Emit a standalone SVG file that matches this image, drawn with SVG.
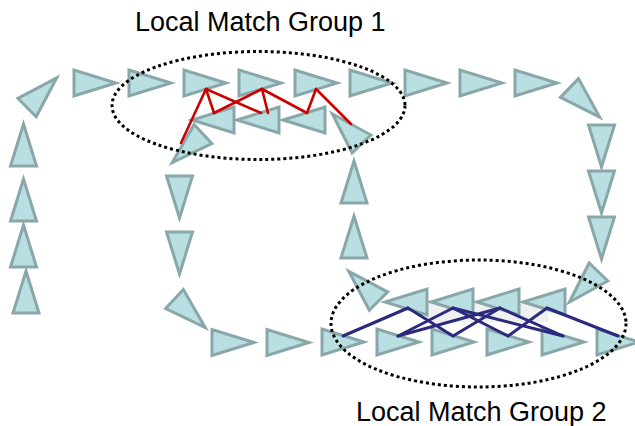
<svg xmlns="http://www.w3.org/2000/svg" xmlns:xlink="http://www.w3.org/1999/xlink" width="635" height="426" viewBox="0 0 635 426">
  <style>
    .tri { fill: #b9dfe2; stroke: #89a7a8; stroke-width: 3; stroke-linejoin: miter; }
    .red { fill: none; stroke: #cc0000; stroke-width: 2.6; stroke-linecap: round; stroke-linejoin: round; }
    .blue { fill: none; stroke: #2b2a7e; stroke-width: 3; stroke-linecap: round; stroke-linejoin: round; }
    .grp { fill: none; stroke: #000; stroke-width: 3; stroke-dasharray: 3 3; }
    .label { font-family: "Liberation Sans", Arial, sans-serif; font-size: 27px; fill: #000; }
  </style>
  <defs>
    <!-- base triangle: base centred on the origin, apex pointing along +x -->
    <path id="tri" class="tri" d="M0,-13 L0,13 L42,0 Z"/>
  </defs>
  <rect width="635" height="426" fill="#fff"/>

  <!-- faint backdrop behind the second group -->
  <rect x="425" y="300" width="123" height="22" fill="#f0f0f0"/>

  <g id="nodes">
    <!-- left column, going up -->
    <g id="n1"><use xlink:href="#tri" transform="translate(26,313) rotate(-90)"/></g>
    <g id="n2"><use xlink:href="#tri" transform="translate(23.5,267) rotate(-90)"/></g>
    <g id="n3"><use xlink:href="#tri" transform="translate(23.5,221) rotate(-90)"/></g>
    <g id="n4"><use xlink:href="#tri" transform="translate(23.5,166) rotate(-90)"/></g>
    <g id="n5"><use xlink:href="#tri" transform="translate(27,107.5) rotate(-45)"/></g>
    <!-- top row, going right -->
    <g id="n6"><use xlink:href="#tri" transform="translate(74,83)"/></g>
    <g id="n7"><use xlink:href="#tri" transform="translate(129,83)"/></g>
    <g id="n8"><use xlink:href="#tri" transform="translate(184,83)"/></g>
    <g id="n9"><use xlink:href="#tri" transform="translate(239,83)"/></g>
    <g id="n10"><use xlink:href="#tri" transform="translate(295,83)"/></g>
    <g id="n11"><use xlink:href="#tri" transform="translate(350,83)"/></g>
    <g id="n12"><use xlink:href="#tri" transform="translate(405,83)"/></g>
    <g id="n13"><use xlink:href="#tri" transform="translate(460,83)"/></g>
    <g id="n14"><use xlink:href="#tri" transform="translate(515,83)"/></g>
    <g id="n15"><use xlink:href="#tri" transform="translate(569.5,88) rotate(44)"/></g>
    <!-- right column, going down -->
    <g id="n16"><use xlink:href="#tri" transform="translate(601.5,125) rotate(90)"/></g>
    <g id="n17"><use xlink:href="#tri" transform="translate(601.5,171) rotate(90)"/></g>
    <g id="n18"><use xlink:href="#tri" transform="translate(601.5,217) rotate(90)"/></g>
    <g id="n19"><use xlink:href="#tri" transform="translate(598.5,272) rotate(134)"/></g>
    <!-- second group, upper row going left -->
    <g id="n20"><use xlink:href="#tri" transform="translate(565,302) rotate(180)"/></g>
    <g id="n21"><use xlink:href="#tri" transform="translate(519,302) rotate(180)"/></g>
    <g id="n22"><use xlink:href="#tri" transform="translate(473,302) rotate(180)"/></g>
    <g id="n23"><use xlink:href="#tri" transform="translate(427,302) rotate(180)"/></g>
    <g id="n24"><use xlink:href="#tri" transform="translate(378.5,301) rotate(225)"/></g>
    <!-- middle column, going up -->
    <g id="n25"><use xlink:href="#tri" transform="translate(354,258) rotate(-90)"/></g>
    <g id="n26"><use xlink:href="#tri" transform="translate(354,203) rotate(-90)"/></g>
    <g id="n27"><use xlink:href="#tri" transform="translate(361.5,144) rotate(226)"/></g>
    <!-- first group, lower row going left -->
    <g id="n28"><use xlink:href="#tri" transform="translate(325,120) rotate(180)"/></g>
    <g id="n29"><use xlink:href="#tri" transform="translate(279,120) rotate(180)"/></g>
    <g id="n30"><use xlink:href="#tri" transform="translate(234,120) rotate(180)"/></g>
    <g id="n31"><use xlink:href="#tri" transform="translate(203,134) rotate(137)"/></g>
    <!-- inner column, going down -->
    <g id="n32"><use xlink:href="#tri" transform="translate(179.5,176) rotate(90)"/></g>
    <g id="n33"><use xlink:href="#tri" transform="translate(179.5,232) rotate(90)"/></g>
    <g id="n34"><use xlink:href="#tri" transform="translate(174.5,299) rotate(43)"/></g>
    <!-- bottom row, going right -->
    <g id="n35"><use xlink:href="#tri" transform="translate(212,342.5)"/></g>
    <g id="n36"><use xlink:href="#tri" transform="translate(267,342.5)"/></g>
    <g id="n37"><use xlink:href="#tri" transform="translate(322,342)"/></g>
    <g id="n38"><use xlink:href="#tri" transform="translate(377,342)"/></g>
    <g id="n39"><use xlink:href="#tri" transform="translate(432,342)"/></g>
    <g id="n40"><use xlink:href="#tri" transform="translate(487,342)"/></g>
    <g id="n41"><use xlink:href="#tri" transform="translate(542,342)"/></g>
    <g id="n42"><use xlink:href="#tri" transform="translate(597,342)"/></g>
  </g>

  <g id="connectors">
    <!-- matches in the first group -->
    <g class="red">
      <line x1="181" y1="143" x2="206" y2="89"/>
      <line x1="206" y1="89" x2="214" y2="113"/>
      <line x1="214" y1="113" x2="262" y2="89"/>
      <line x1="206" y1="89" x2="261" y2="113"/>
      <line x1="262" y1="89" x2="268" y2="113"/>
      <line x1="262" y1="89" x2="307" y2="113"/>
      <line x1="307" y1="113" x2="316" y2="89"/>
      <line x1="316" y1="89" x2="351" y2="124"/>
    </g>
    <!-- matches in the second group -->
    <g class="blue">
      <line x1="343" y1="336" x2="408" y2="308"/>
      <line x1="408" y1="308" x2="453" y2="336"/>
      <line x1="398" y1="336" x2="453" y2="308"/>
      <line x1="398" y1="336" x2="500" y2="308"/>
      <line x1="453" y1="308" x2="508" y2="336"/>
      <line x1="453" y1="308" x2="563" y2="336"/>
      <line x1="453" y1="336" x2="500" y2="308"/>
      <line x1="500" y1="308" x2="563" y2="336"/>
      <line x1="508" y1="336" x2="547" y2="308"/>
      <line x1="547" y1="308" x2="618" y2="336"/>
    </g>
  </g>

  <g id="group1">
    <ellipse class="grp" cx="258.5" cy="105.5" rx="146.5" ry="54"/>
    <text class="label" x="135" y="31">Local Match Group 1</text>
  </g>
  <g id="group2">
    <ellipse class="grp" cx="478.5" cy="323.5" rx="147.5" ry="63.5"/>
    <text class="label" x="356" y="421">Local Match Group 2</text>
  </g>
</svg>
